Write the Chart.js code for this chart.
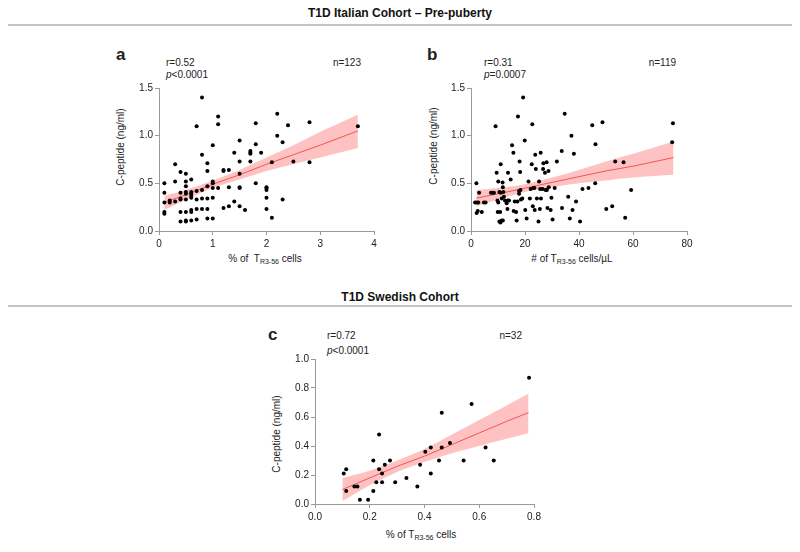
<!DOCTYPE html>
<html>
<head>
<meta charset="utf-8">
<script src="https://cdn.jsdelivr.net/npm/chart.js@4.4.0/dist/chart.umd.min.js"></script>
<style>
  body { margin: 0; background: #fff; font-family: "Liberation Sans", Arial, sans-serif; color: #222; }
  #page { position: relative; width: 800px; height: 552px; overflow: hidden; }
  canvas, .t, .rule, .hdr { position: absolute; }
  .t { white-space: nowrap; font-size: 10px; line-height: 10px; }
  .t sub { font-size: 7px; vertical-align: -2px; }
  .lt { font-size: 17px; font-weight: bold; line-height: 17px; }
  .yt { transform: translate(-50%, -50%) rotate(-90deg); }
  .xt { transform: translateX(-50%); }
  .hdr { left: 0; width: 800px; text-align: center; font-family: "Liberation Sans Narrow", "Liberation Sans", Arial, sans-serif;
         font-weight: bold; font-size: 12px; line-height: 16px; color: #111; }
  .rule { left: 8px; width: 784px; height: 2px; background: #c4c4c4; }
</style>
</head>
<body>
<div id="page">
  <div class="hdr" style="top:5px">T1D Italian Cohort – Pre-puberty</div>
  <div class="rule" style="top:24px"></div>
  <div class="hdr" style="top:289px">T1D Swedish Cohort</div>
  <div class="rule" style="top:305px"></div>

  <!-- panel a -->
  <div class="t lt" style="left:116px;top:46px">a</div>
  <div class="t" style="left:166px;top:58px">r=0.52</div>
  <div class="t" style="left:166px;top:70px"><i>p</i>&lt;0.0001</div>
  <div class="t" style="right:439px;top:58px">n=123</div>
  <div class="t yt" style="left:121px;top:147px">C-peptide (ng/ml)</div>
  <div class="t xt" style="left:265px;top:254px">% of &nbsp;T<sub>R3-56</sub> cells</div>
  <canvas id="chartA" width="290" height="190" style="left:100px;top:80px"></canvas>

  <!-- panel b -->
  <div class="t lt" style="left:427px;top:46px">b</div>
  <div class="t" style="left:484px;top:58px">r=0.31</div>
  <div class="t" style="left:484px;top:70px"><i>p</i>=0.0007</div>
  <div class="t" style="right:124px;top:58px">n=119</div>
  <div class="t yt" style="left:434px;top:146px">C-peptide (ng/ml)</div>
  <div class="t xt" style="left:572px;top:254px"># of T<sub>R3-56</sub> cells/µL</div>
  <canvas id="chartB" width="300" height="190" style="left:410px;top:80px"></canvas>

  <!-- panel c -->
  <div class="t lt" style="left:268px;top:326px">c</div>
  <div class="t" style="left:327px;top:331px">r=0.72</div>
  <div class="t" style="left:327px;top:346px"><i>p</i>&lt;0.0001</div>
  <div class="t" style="right:278px;top:331px">n=32</div>
  <div class="t yt" style="left:277px;top:434px">C-peptide (ng/ml)</div>
  <div class="t xt" style="left:421px;top:530px">% of T<sub>R3-56</sub> cells</div>
  <canvas id="chartC" width="300" height="190" style="left:260px;top:350px"></canvas>
</div>

<script>
// panel a: % of TR3-56 cells vs C-peptide (Italian cohort)
const aX = [0.1,0.1,0.1,0.1,0.1, 0.2,0.2, 0.3,0.3,0.3, 0.4,0.4,0.4,0.4,0.4,0.4,
  0.5,0.5,0.5,0.5,0.5,0.5,0.5,0.5,0.5, 0.6,0.6,0.6,0.6,0.6,0.6,0.6,0.6,
  0.7,0.7,0.7,0.7,0.7, 0.8,0.8,0.8,0.8,0.8, 0.9,0.9,0.9,0.9,0.9,0.9,
  1.0,1.0,1.0,1.0,1.0,1.0, 1.1,1.1,1.1, 1.2,1.2,1.2, 1.3,1.3,1.3, 1.4,1.4,
  1.5,1.5,1.5,1.5,1.5,1.5, 1.6, 1.7,1.7,1.7,1.7, 1.8,1.8,1.8, 1.9,
  2.0,2.0,2.0,2.0,2.0, 2.1,2.1, 2.2,2.2, 2.3,2.3, 2.4, 2.5, 2.8,2.8, 3.7];
const aY = [0.50,0.40,0.30,0.20,0.18, 0.32,0.30, 0.70,0.52,0.31, 0.62,0.40,0.34,0.33,0.20,0.10,
  0.60,0.52,0.47,0.41,0.39,0.33,0.20,0.11,0.10, 0.54,0.41,0.39,0.37,0.35,0.22,0.20,0.11,
  1.10,0.42,0.33,0.23,0.12, 1.40,0.80,0.43,0.34,0.23, 0.71,0.63,0.47,0.34,0.23,0.13,
  0.90,0.52,0.50,0.45,0.35,0.13, 1.20,1.12,0.45, 0.64,0.63,0.24, 0.64,0.46,0.26, 0.82,0.31,
  0.95,0.73,0.60,0.46,0.45,0.26, 0.22, 0.84,0.82,0.81,0.73, 1.13,0.91,0.50, 0.82,
  0.46,0.45,0.43,0.35,0.23, 0.72,0.14, 1.23,1.00, 0.93,0.33, 1.11, 0.73, 1.14,0.72, 1.10];
const aFitX = [0.1, 0.5, 1.0, 1.5, 2.0, 2.5, 3.0, 3.7];
const aFitY = [0.30, 0.38, 0.49, 0.59, 0.70, 0.80, 0.90, 1.05];
const aLow  = [0.22, 0.33, 0.45, 0.54, 0.63, 0.70, 0.77, 0.87];
const aHigh = [0.37, 0.43, 0.53, 0.64, 0.77, 0.90, 1.04, 1.22];
const aTicksX = [0, 1, 2, 3, 4];

// panel b: # of TR3-56 cells/uL vs C-peptide
const bX = [2.0,1.5,2.1,2.7,3.0,2.1,2.5,4.0,4.8,5.4,
  7.4,8.0,8.5,9.1,9.5,9.8,10.1,9.9,10.1,10.5,
  10.5,10.9,11.4,11.8,11.0,11.0,11.4,11.8,10.8,11.7,
  12.0,12.2,12.6,13.2,13.6,14.1,13.5,13.7,14.7,15.2,
  15.7,15.8,16.2,16.7,16.9,17.2,17.4,17.8,17.8,18.0,
  18.2,18.3,18.5,19.0,19.3,19.9,20.1,20.6,21.3,21.8,
  22.1,22.5,22.7,22.9,23.1,23.5,23.6,23.8,24.0,24.4,
  25.0,25.2,25.5,25.6,25.8,25.9,26.5,26.7,26.8,27.4,
  27.6,28.0,28.1,28.3,28.7,28.8,29.5,29.8,30.2,31.0,
  31.8,33.6,33.7,34.7,36.0,36.6,37.2,37.6,38.1,38.9,
  40.4,41.3,43.5,44.9,46.0,46.1,48.7,50.1,52.3,53.4,
  56.5,57.1,59.3,74.5,74.8];
const bY = [0.50,0.30,0.30,0.30,0.40,0.19,0.21,0.20,0.30,0.30,
  0.40,0.40,0.40,1.10,0.61,0.32,0.30,0.20,0.52,0.41,
  0.10,0.09,0.11,0.11,0.70,0.40,0.34,0.46,0.20,0.51,
  0.41,0.36,0.32,0.29,0.32,0.32,0.23,0.61,0.54,0.90,
  0.82,0.21,0.31,0.20,0.11,0.31,1.20,0.39,0.42,0.73,
  0.62,0.43,0.33,0.34,1.40,0.95,0.22,0.13,0.52,0.34,
  0.44,0.70,1.12,0.26,0.45,0.45,0.22,0.80,0.65,0.34,
  0.10,0.52,0.23,0.44,0.82,0.34,0.44,0.65,0.71,0.61,
  0.43,0.72,0.43,0.24,0.63,0.46,0.22,0.35,0.12,0.45,
  0.73,0.84,0.24,1.23,0.36,0.13,1.00,0.22,0.81,0.31,
  0.10,0.44,0.45,1.11,0.50,0.91,1.14,0.23,0.26,0.73,
  0.72,0.14,0.43,0.93,1.13];
const bFitX = [2, 10, 20, 30, 40, 50, 60, 75];
const bFitY = [0.345, 0.39, 0.45, 0.51, 0.57, 0.63, 0.68, 0.77];
const bLow  = [0.26, 0.33, 0.41, 0.46, 0.50, 0.53, 0.56, 0.59];
const bHigh = [0.43, 0.45, 0.49, 0.56, 0.64, 0.73, 0.81, 0.94];
const bTicksX = [0, 20, 40, 60, 80];

// panel c: Swedish cohort
const cX = [0.105,0.114,0.114,0.144,0.155,0.164,0.194,0.213,0.213,0.224,
  0.234,0.234,0.245,0.245,0.255,0.274,0.293,0.334,0.374,0.384,
  0.403,0.423,0.423,0.453,0.463,0.463,0.493,0.543,0.572,0.623,0.653,0.782];
const cY = [0.21,0.24,0.09,0.12,0.12,0.03,0.03,0.30,0.09,0.15,
  0.48,0.24,0.21,0.15,0.27,0.30,0.15,0.18,0.12,0.27,
  0.36,0.39,0.21,0.30,0.63,0.39,0.42,0.30,0.69,0.39,0.30,0.87];
const cFitX = [0.1, 0.2, 0.3, 0.4, 0.5, 0.6, 0.7, 0.78];
const cFitY = [0.10, 0.18, 0.26, 0.33, 0.41, 0.49, 0.57, 0.63];
const cLow  = [0.02, 0.13, 0.22, 0.29, 0.35, 0.40, 0.45, 0.49];
const cHigh = [0.18, 0.23, 0.30, 0.38, 0.48, 0.58, 0.68, 0.76];
const cTicksX = [0, 0.2, 0.4, 0.6, 0.8];

const yTicksAB = [0, 0.5, 1.0, 1.5];
const yTicksC = [0, 0.2, 0.4, 0.6, 0.8, 1.0];

function pts(xs, ys) {
  return xs.map((x, i) => ({ x: x, y: ys[i] }));
}

const axisColor = "#9a9a9a";
const tickFont = { family: "Liberation Sans", size: 10 };

function drawPanel(id, p, box) {
  const ctx = document.getElementById(id).getContext("2d");
  const xt = p.ticksX, yt = p.ticksY;
  new Chart(ctx, {
    type: "scatter",
    data: {
      datasets: [
        { data: pts(p.x, p.y), backgroundColor: "#000", borderWidth: 0, pointRadius: 2 },
        { data: pts(p.fitX, p.fitY), showLine: true, borderColor: "#f25454", borderWidth: 1, pointRadius: 0 },
        { data: pts(p.fitX, p.high), showLine: true, borderColor: "transparent", borderWidth: 0, pointRadius: 0,
          cubicInterpolationMode: "monotone", fill: "+1", backgroundColor: "rgba(255, 120, 120, 0.45)" },
        { data: pts(p.fitX, p.low), showLine: true, borderColor: "transparent", borderWidth: 0, pointRadius: 0,
          cubicInterpolationMode: "monotone", fill: false }
      ]
    },
    options: {
      responsive: false,
      animation: false,
      devicePixelRatio: 1,
      layout: { padding: { left: 0, top: box.top, right: box.right, bottom: 0 } },
      plugins: { legend: { display: false }, tooltip: { enabled: false } },
      scales: {
        x: {
          type: "linear",
          min: xt[0], max: xt[xt.length - 1],
          afterBuildTicks: (s) => { s.ticks = xt.map(v => ({ value: v })); },
          afterFit: (s) => { s.height = box.xH; },
          ticks: { font: tickFont, color: "#222", padding: 3, maxRotation: 0,
                   callback: (v) => p.xFmt(v) },
          grid: { drawOnChartArea: false, drawTicks: true, tickLength: 4, color: axisColor },
          border: { color: axisColor, width: 1 }
        },
        y: {
          type: "linear",
          min: yt[0], max: yt[yt.length - 1],
          afterBuildTicks: (s) => { s.ticks = yt.map(v => ({ value: v })); },
          afterFit: (s) => { s.width = box.yW; },
          ticks: { font: tickFont, color: "#222", padding: 2, callback: (v) => v.toFixed(1) },
          grid: { drawOnChartArea: false, drawTicks: true, tickLength: 4, color: axisColor },
          border: { color: axisColor, width: 1 }
        }
      }
    }
  });
}

drawPanel("chartA",
  { x: aX, y: aY, fitX: aFitX, fitY: aFitY, low: aLow, high: aHigh, ticksX: aTicksX, ticksY: yTicksAB,
    xFmt: (v) => String(v) },
  { top: 7, right: 16, xH: 39, yW: 59 });

drawPanel("chartB",
  { x: bX, y: bY, fitX: bFitX, fitY: bFitY, low: bLow, high: bHigh, ticksX: bTicksX, ticksY: yTicksAB,
    xFmt: (v) => String(v) },
  { top: 7, right: 23, xH: 39, yW: 61 });

drawPanel("chartC",
  { x: cX, y: cY, fitX: cFitX, fitY: cFitY, low: cLow, high: cHigh, ticksX: cTicksX, ticksY: yTicksC,
    xFmt: (v) => v.toFixed(1) },
  { top: 9, right: 26, xH: 36, yW: 55 });
</script>
</body>
</html>
